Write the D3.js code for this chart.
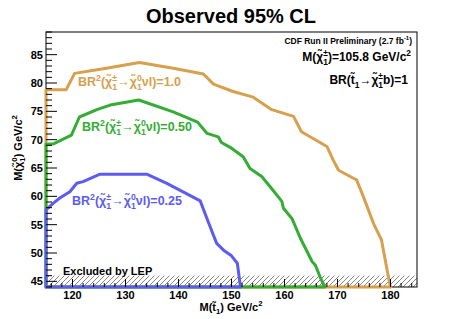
<!DOCTYPE html>
<html>
<head>
<meta charset="utf-8">
<script src="https://cdn.jsdelivr.net/npm/d3@7.9.0/dist/d3.min.js"></script>
<style>
  body { margin: 0; background: #fff; }
  svg text { font-family: 'Liberation Sans', Arial, sans-serif; font-weight: bold; }
</style>
</head>
<body>
<svg id="chart" width="463" height="319"></svg>
<script>
// contour points: [M(stop), M(neutralino)]
const br100 = [[115, 44], [115, 78.8], [118.8, 78.8], [120.4, 81.7], [126.4, 82.6], [132.6, 83.6],
  [139, 82.6], [144.7, 81.6], [146.6, 79.8], [150.3, 78.5], [154.1, 77.5], [157.6, 75.3],
  [161.7, 74.1], [163.2, 71.4], [165.4, 70.2], [168, 68.8], [169.2, 66.4], [170.2, 64.6],
  [173, 63.2], [173.6, 62.9], [174.9, 59.9], [176.8, 55.2], [178.3, 52.3], [178.9, 49.3],
  [179.6, 45.8], [180, 44]];
const br050 = [[115, 44], [115, 69.2], [116.5, 69.3], [119.8, 70.8], [121.3, 74.0], [124.6, 75.3],
  [127.1, 76.1], [132.5, 77.0], [139, 74.9], [143.6, 73.1], [145.4, 71.1], [147.5, 70.5],
  [148.1, 69.5], [150, 68.5], [152.2, 67.0], [153.5, 64.9], [155.7, 63.5], [157.3, 61.7],
  [159.5, 59.1], [159.8, 57.9], [161.4, 56.1], [163, 52.6], [165.2, 48.5], [165.8, 47.9],
  [166.7, 45.8], [167.6, 44]];
const br025 = [[115, 44], [115, 57.6], [116.4, 58.8], [117.6, 59.7], [119.5, 60.8], [120.8, 62.3],
  [122, 62.6], [125.2, 63.9], [134, 63.9], [137.8, 62.3], [144.1, 59.2], [145.6, 55.5],
  [147.2, 51.7], [148.5, 50.5], [150, 49.5], [151.1, 48.2], [151.7, 44]];
const brLabels = ['1.0', '0.50', '0.25'];
const lepLimit = 46;
const xTicks = [120, 130, 140, 150, 160, 170, 180];
const yTicks = [45, 50, 55, 60, 65, 70, 75, 80, 85];

const W = 463, H = 319;
const margin = { top: 32, right: 46, bottom: 32, left: 46 };
const svg = d3.select('#chart');

const x = d3.scaleLinear().domain([115, 185]).range([margin.left, W - margin.right]);
const y = d3.scaleLinear().domain([44, 89]).range([H - margin.bottom, margin.top]);

// hatch pattern for the LEP region
const pat = svg.append('defs').append('pattern')
  .attr('id', 'hatch').attr('patternUnits', 'userSpaceOnUse')
  .attr('width', 5).attr('height', 5);
pat.append('path').attr('d', 'M-1,1 l2,-2 M0,5 l5,-5 M4,6 l2,-2')
  .attr('stroke', '#777').attr('stroke-width', 0.9);

svg.append('rect')
  .attr('x', x(115)).attr('y', y(lepLimit))
  .attr('width', x(185) - x(115)).attr('height', y(44) - y(lepLimit))
  .attr('fill', 'url(#hatch)');

// text with sub/superscripts: parts are strings or {sup}, {sub}, {sub, sup}
function richText(g, px, py, parts, opts) {
  const t = g.append('text').attr('x', px).attr('y', py)
    .attr('font-size', opts.size).attr('fill', opts.color || '#000')
    .attr('text-anchor', opts.anchor || 'start');
  const s = opts.size;
  let off = 0;
  parts.forEach((p) => {
    if (typeof p === 'string') {
      t.append('tspan').attr('dy', -off).text(p);
      off = 0;
    } else if (p.sub && p.sup) {
      const up = t.append('tspan').attr('font-size', s * 0.7).attr('dy', -0.42 * s - off).text(p.sup);
      const w = up.node().getComputedTextLength();
      t.append('tspan').attr('font-size', s * 0.7).attr('dx', -w).attr('dy', 0.72 * s).text(p.sub);
      off = 0.3 * s;
    } else if (p.sup) {
      t.append('tspan').attr('font-size', s * 0.7).attr('dy', -0.42 * s - off).text(p.sup);
      off = -0.42 * s;
    } else if (p.sub) {
      t.append('tspan').attr('font-size', s * 0.7).attr('dy', 0.3 * s - off).text(p.sub);
      off = 0.3 * s;
    }
  });
  return t;
}

const curves = [
  { data: br100, color: '#d6a04c', label: brLabels[0], lx: 78, ly: 86 },
  { data: br050, color: '#33ad33', label: brLabels[1], lx: 82, ly: 131 },
  { data: br025, color: '#5c5cf0', label: brLabels[2], lx: 72, ly: 205 },
];
const line = d3.line().x((d) => x(d[0])).y((d) => y(d[1]));

// frame
svg.append('rect')
  .attr('x', x(115)).attr('y', y(89))
  .attr('width', x(185) - x(115)).attr('height', y(44) - y(89))
  .attr('fill', 'none').attr('stroke', '#000').attr('stroke-width', 1);

// contours: orange first, blue last (on top)
curves.forEach((c) => {
  svg.append('path').attr('d', line(c.data) + 'Z')
    .attr('fill', 'none').attr('stroke', c.color).attr('stroke-width', 3)
    .attr('stroke-linejoin', 'round');
});

// inward ticks
const xMinor = d3.range(116, 185, 2).filter((v) => !xTicks.includes(v));
const yMinor = d3.range(44, 89.01, 1).filter((v) => !yTicks.includes(v));
const tg = svg.append('g').attr('stroke', '#000').attr('stroke-width', 1);
xTicks.forEach((v) => tg.append('line').attr('x1', x(v)).attr('x2', x(v)).attr('y1', y(44)).attr('y2', y(44) - 8));
xMinor.forEach((v) => tg.append('line').attr('x1', x(v)).attr('x2', x(v)).attr('y1', y(44)).attr('y2', y(44) - 4));
yTicks.forEach((v) => tg.append('line').attr('x1', x(115)).attr('x2', x(115) + 11).attr('y1', y(v)).attr('y2', y(v)));
yMinor.forEach((v) => tg.append('line').attr('x1', x(115)).attr('x2', x(115) + 6).attr('y1', y(v)).attr('y2', y(v)));

svg.append('g').selectAll('text').data(xTicks).join('text')
  .attr('x', (d) => x(d)).attr('y', 299).attr('text-anchor', 'middle')
  .attr('font-size', 11).text((d) => d);
svg.append('g').selectAll('text').data(yTicks).join('text')
  .attr('x', 43).attr('y', (d) => y(d) + 4).attr('text-anchor', 'end')
  .attr('font-size', 11).text((d) => d);

// axis titles
richText(svg, 231, 311, ['M(t\u0303', { sub: '1' }, ') GeV/c', { sup: '2' }], { size: 11, anchor: 'middle' });
const yl = svg.append('g').attr('transform', 'translate(22,148) rotate(-90)');
richText(yl, 0, 0, ['M(\u03c7\u0303', { sub: '1', sup: '0' }, ') GeV/c', { sup: '2' }], { size: 11, anchor: 'middle' });

// title
svg.append('text').attr('x', 231).attr('y', 23).attr('text-anchor', 'middle')
  .attr('font-size', 20).text('Observed 95% CL');

// top-right annotations
richText(svg, 412, 44, ['CDF Run II Preliminary (2.7 fb', { sup: '-1' }, ')'], { size: 8.5, anchor: 'end' });
richText(svg, 411, 61, ['M(\u03c7\u0303', { sub: '1', sup: '\u00b1' }, ')=105.8 GeV/c', { sup: '2' }], { size: 12, anchor: 'end' });
richText(svg, 408, 84, ['BR(t\u0303', { sub: '1' }, '\u2192\u03c7\u0303', { sub: '1', sup: '\u00b1' }, 'b)=1'], { size: 12, anchor: 'end' });

// curve labels
curves.forEach((c) => {
  richText(svg, c.lx, c.ly, ['BR', { sup: '2' }, '(\u03c7\u0303', { sub: '1', sup: '\u00b1' },
    '\u2192\u03c7\u0303', { sub: '1', sup: '0' }, '\u03bdl)=' + c.label], { size: 12.5, color: c.color });
});

svg.append('text').attr('x', 63).attr('y', 275).attr('font-size', 11).text('Excluded by LEP');
</script>
</body>
</html>
